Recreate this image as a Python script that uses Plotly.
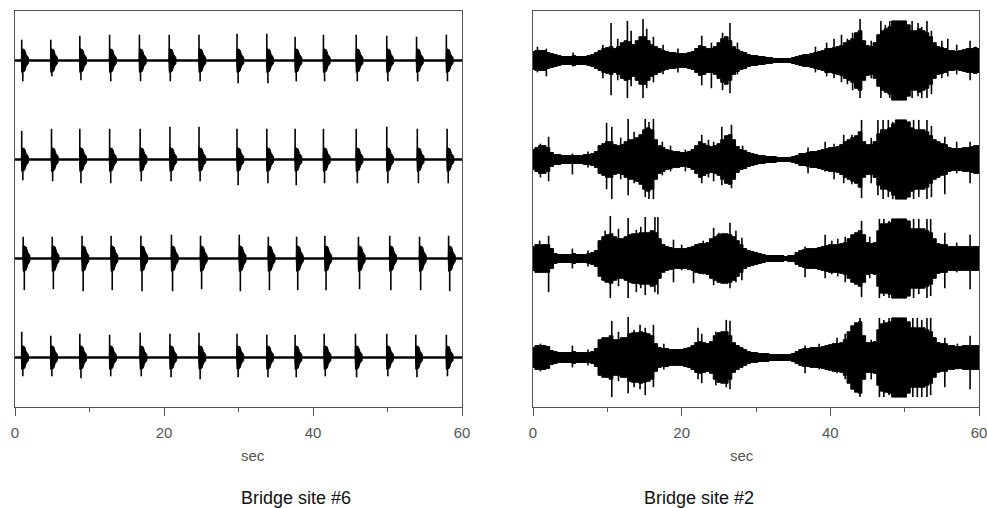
import plotly.graph_objects as go

# ---------------- DATA ----------------
# Bridge site #6 : periodic vehicle pulses (onset times in sec, peak up / down amplitude)
L1_T = [0.9, 4.8, 8.7, 12.7, 16.7, 20.7, 24.7, 29.8, 33.8, 37.6, 41.4, 45.8, 49.9, 53.9, 57.9]
L1_UP = [21, 21, 25, 26, 26, 26, 26, 27, 27, 24, 26, 26, 25, 24, 26]
L1_DN = [21, 16, 20, 21, 21, 21, 21, 23, 23, 21, 21, 21, 21, 21, 21]

L2_T = [0.9, 4.9, 8.7, 12.7, 16.8, 20.8, 24.7, 29.8, 33.8, 37.6, 41.4, 45.8, 49.9, 54.0, 58.0]
L2_UP = [29, 31, 31, 31, 31, 33, 33, 31, 31, 31, 31, 31, 33, 31, 31]
L2_DN = [21, 22, 24, 24, 22, 22, 22, 26, 24, 26, 24, 24, 24, 24, 24]

L3_T = [1.1, 5.0, 9.0, 12.9, 16.9, 21.0, 24.9, 30.1, 34.0, 37.8, 41.6, 46.1, 50.3, 54.3, 58.2]
L3_UP = [22, 22, 23, 23, 23, 24, 23, 24, 22, 22, 23, 22, 23, 22, 23]
L3_DN = [32, 31, 33, 32, 33, 33, 31, 33, 32, 32, 32, 31, 32, 32, 33]

L4_T = [0.9, 4.8, 8.7, 12.7, 16.8, 20.8, 24.7, 29.8, 33.8, 37.6, 41.5, 45.7, 49.9, 53.8, 57.9]
L4_UP = [26, 22, 24, 23, 25, 24, 25, 24, 23, 23, 24, 24, 24, 23, 23]
L4_DN = [19, 19, 21, 19, 19, 20, 22, 20, 20, 20, 19, 20, 19, 20, 19]

LEFT_BODY = [12, 12, 13, 12]

# Bridge site #2 : envelope amplitude every 0.5 s (0 ... 60 s)
R1_ENV = [9, 10, 10, 10, 8, 7, 6, 5, 4, 4, 4, 5, 4, 4, 4, 5, 6, 8, 10, 12,
          13, 14, 12, 14, 18, 20, 19, 16, 20, 24, 24, 20, 16, 14, 12, 10, 9, 8, 8, 7,
          7, 7, 8, 9, 12, 15, 14, 12, 12, 14, 18, 22, 24, 20, 14, 11, 9, 8, 6, 5,
          5, 4, 4, 3, 3, 2, 2, 2, 2, 2, 3, 4, 5, 6, 6, 7, 8, 9, 10, 12,
          12, 13, 14, 15, 18, 20, 22, 28, 30, 20, 15, 14, 18, 26, 30, 32, 34, 40, 40, 40,
          40, 36, 30, 30, 32, 30, 28, 24, 18, 14, 13, 12, 10, 10, 9, 10, 11, 12, 12, 13,
          12]
R2_ENV = [10, 12, 14, 14, 12, 7, 5, 5, 4, 4, 4, 4, 4, 4, 5, 5, 6, 8, 14, 16,
          18, 18, 15, 14, 15, 18, 20, 20, 22, 25, 30, 32, 30, 20, 14, 12, 10, 9, 8, 8,
          7, 7, 8, 10, 14, 18, 16, 14, 13, 14, 16, 20, 24, 25, 20, 13, 10, 9, 7, 6,
          5, 4, 4, 3, 3, 3, 2, 2, 2, 2, 3, 4, 6, 6, 7, 8, 8, 9, 10, 11,
          12, 12, 13, 15, 18, 20, 22, 24, 28, 18, 15, 15, 18, 26, 30, 30, 32, 36, 40, 40,
          40, 38, 32, 30, 30, 30, 28, 24, 20, 18, 16, 15, 12, 11, 11, 11, 12, 12, 13, 14,
          14]
R3_ENV = [12, 14, 14, 14, 14, 10, 5, 4, 4, 4, 4, 5, 4, 4, 4, 5, 6, 8, 18, 22,
          24, 25, 22, 20, 20, 22, 24, 25, 25, 26, 26, 26, 28, 26, 20, 14, 12, 11, 10, 10,
          10, 10, 11, 12, 14, 15, 15, 16, 20, 22, 24, 25, 25, 24, 22, 18, 14, 10, 8, 7,
          6, 5, 4, 3, 3, 3, 3, 3, 2, 3, 3, 6, 8, 9, 10, 10, 10, 11, 12, 13,
          14, 14, 14, 15, 16, 20, 24, 26, 28, 24, 16, 15, 16, 28, 35, 35, 36, 40, 40, 40,
          40, 38, 30, 30, 30, 30, 28, 26, 20, 15, 14, 14, 12, 12, 12, 12, 12, 12, 12, 12,
          12]
R4_ENV = [10, 12, 12, 12, 11, 7, 6, 5, 5, 5, 5, 6, 5, 5, 5, 5, 6, 9, 18, 20,
          20, 22, 18, 18, 20, 20, 24, 25, 25, 26, 25, 24, 22, 14, 10, 9, 9, 8, 8, 8,
          8, 9, 10, 12, 15, 16, 15, 14, 16, 22, 25, 26, 26, 22, 15, 12, 10, 8, 6, 5,
          5, 4, 4, 4, 3, 3, 3, 3, 3, 3, 4, 6, 8, 9, 9, 10, 10, 10, 11, 12,
          13, 14, 14, 15, 18, 26, 32, 35, 36, 22, 15, 15, 16, 28, 34, 35, 36, 40, 40, 40,
          40, 36, 30, 30, 30, 30, 28, 26, 20, 15, 14, 14, 12, 12, 11, 11, 12, 12, 12, 12,
          12]

# Bridge site #2 : individual peaks (time, up, down)
R1_SPK = [(0.6, 14, 12), (1.8, 12, 16), (5.4, 8, 6), (9.4, 16, 18), (10.5, 38, 35), (11.4, 22, 20),
          (12.7, 40, 38), (13.2, 30, 26), (14.8, 42, 38), (15.3, 32, 28), (16.2, 24, 22), (17.5, 16, 14),
          (19.5, 12, 12), (22.7, 25, 25), (24.0, 18, 28), (25.5, 28, 30), (26.5, 38, 33), (27.5, 18, 14),
          (38.0, 14, 12), (39.5, 18, 16), (40.5, 22, 18), (41.5, 26, 22), (42.3, 22, 24), (43.0, 28, 30),
          (44.0, 42, 38), (45.5, 20, 18), (46.8, 40, 38), (47.4, 36, 32), (48.0, 40, 38), (51.0, 40, 38),
          (51.8, 38, 36), (52.3, 34, 38), (53.0, 40, 38), (53.6, 30, 34), (55.0, 20, 18), (55.8, 22, 16),
          (57.0, 16, 14), (58.8, 20, 20), (59.5, 14, 12)]
R2_SPK = [(1.0, 16, 18), (2.1, 23, 22), (5.3, 6, 15), (7.4, 8, 8), (9.9, 37, 30), (10.6, 33, 40),
          (11.8, 22, 20), (12.8, 41, 36), (13.6, 28, 24), (15.1, 41, 38), (15.6, 38, 40), (16.2, 41, 40),
          (17.4, 18, 16), (18.5, 14, 12), (20.5, 10, 12), (22.7, 25, 24), (23.6, 20, 18), (24.3, 18, 22),
          (25.4, 33, 26), (26.7, 35, 29), (28.2, 14, 10), (37.0, 12, 14), (39.3, 18, 12), (40.5, 16, 20),
          (41.8, 25, 24), (42.9, 25, 25), (44.2, 40, 39), (45.5, 22, 24), (46.4, 40, 36), (47.1, 40, 40),
          (47.8, 40, 38), (48.4, 38, 40), (51.2, 40, 40), (51.9, 40, 38), (53.0, 40, 40), (53.6, 34, 38),
          (55.4, 23, 35), (57.0, 18, 14), (58.8, 18, 24)]
R3_SPK = [(0.9, 18, 14), (2.1, 23, 34), (5.3, 10, 10), (7.4, 8, 8), (9.7, 28, 24), (10.4, 43, 40),
          (11.5, 30, 28), (12.8, 41, 40), (13.9, 29, 34), (14.5, 32, 30), (15.1, 42, 37), (16.4, 42, 34),
          (16.8, 42, 36), (18.9, 19, 24), (20.0, 14, 12), (21.6, 12, 25), (22.9, 18, 16), (24.3, 31, 27),
          (25.0, 26, 22), (26.5, 36, 30), (27.3, 28, 24), (28.1, 21, 22), (36.6, 12, 19), (39.3, 24, 20),
          (40.2, 18, 16), (41.0, 20, 18), (42.0, 22, 24), (44.2, 38, 39), (45.3, 22, 20), (46.6, 40, 40),
          (47.2, 40, 38), (47.9, 38, 40), (51.2, 40, 40), (51.9, 40, 36), (53.0, 40, 40), (53.5, 40, 38),
          (55.4, 26, 30), (57.0, 16, 14), (58.8, 24, 31)]
R4_SPK = [(1.0, 14, 14), (5.3, 12, 10), (7.4, 8, 8), (10.6, 37, 40), (11.5, 26, 24), (12.8, 41, 36),
          (13.6, 28, 30), (14.4, 33, 32), (15.1, 30, 38), (16.2, 33, 30), (17.6, 14, 12), (22.2, 30, 22),
          (22.7, 24, 26), (24.6, 26, 28), (26.0, 38, 30), (26.5, 37, 32), (36.6, 12, 16), (38.5, 14, 12),
          (40.9, 20, 16), (42.0, 24, 22), (44.0, 40, 40), (45.5, 18, 22), (46.6, 40, 40), (47.2, 38, 40),
          (47.9, 40, 38), (51.1, 40, 40), (51.7, 40, 40), (52.3, 38, 40), (53.0, 40, 40), (53.5, 40, 38),
          (55.4, 20, 30), (57.1, 14, 12), (58.8, 22, 32)]

ENV_STEP = 0.5
X_TICKS = [0, 20, 40, 60]
X_TICK_LABELS = ["0", "20", "40", "60"]
PANEL_TITLES = ["Bridge site #6", "Bridge site #2"]
X_TITLE = "sec"
OFFSETS = [0, -100, -200, -300]

# ---------------- FIGURE ----------------
fig = go.Figure()
INK = "black"

# left panel
left = [(L1_T, L1_UP, L1_DN), (L2_T, L2_UP, L2_DN), (L3_T, L3_UP, L3_DN), (L4_T, L4_UP, L4_DN)]
for k, (ts, ups, dns) in enumerate(left):
    off = OFFSETS[k]
    b = LEFT_BODY[k]
    fig.add_trace(go.Scatter(x=[0, 60], y=[off, off], mode="lines",
                             line=dict(color=INK, width=2.6), xaxis="x", yaxis="y",
                             hoverinfo="skip", showlegend=False))
    bx, by = [], []
    for t in ts:
        bx += [t - 0.05, t, t + 0.4, t + 0.6, t + 0.9, t + 0.9, t + 0.6, t + 0.4, t, t - 0.05, None]
        by += [off, off + b, off + b * 0.9, off + b * 0.5, off + 3,
               off - 3, off - b * 0.5, off - b * 0.9, off - b, off, None]
    fig.add_trace(go.Scatter(x=bx, y=by, mode="lines", fill="toself", fillcolor=INK,
                             line=dict(color=INK, width=1), xaxis="x", yaxis="y",
                             hoverinfo="skip", showlegend=False))
    sx, sy = [], []
    for t, u, d in zip(ts, ups, dns):
        sx += [t, t, None, t + 0.15, t + 0.15, None]
        sy += [off, off + u, None, off, off - d, None]
    fig.add_trace(go.Scatter(x=sx, y=sy, mode="lines", line=dict(color=INK, width=1.6),
                             xaxis="x", yaxis="y", hoverinfo="skip", showlegend=False))

# right panel (stepped envelope + individual peaks)
right = [(R1_ENV, R1_SPK), (R2_ENV, R2_SPK), (R3_ENV, R3_SPK), (R4_ENV, R4_SPK)]
for k, (env, spk) in enumerate(right):
    off = OFFSETS[k]
    ux, uy = [], []
    for i, e in enumerate(env):
        t0 = max(0.0, i * ENV_STEP - ENV_STEP / 2)
        t1 = min(60.0, i * ENV_STEP + ENV_STEP / 2)
        ux += [t0, t1]
        uy += [e, e]
    xs = ux + ux[::-1]
    ys = [off + v for v in uy] + [off - v for v in uy[::-1]]
    fig.add_trace(go.Scatter(x=xs, y=ys, mode="lines", fill="toself", fillcolor=INK,
                             line=dict(color=INK, width=1), xaxis="x2", yaxis="y2",
                             hoverinfo="skip", showlegend=False))
    sx, sy = [], []
    for t, u, d in spk:
        sx += [t, t, None]
        sy += [off + u, off - d, None]
    fig.add_trace(go.Scatter(x=sx, y=sy, mode="lines", line=dict(color=INK, width=1.6),
                             xaxis="x2", yaxis="y2", hoverinfo="skip", showlegend=False))

# page laid out edge-to-edge (body margin removed below)
W, H = 987, 508
def px_x(v):
    return v / W
def px_y(v):
    return 1 - v / H

dom_y = [px_y(407), px_y(11)]
dom_l = [px_x(15), px_x(462)]
dom_r = [px_x(533), px_x(979)]

FONT = "Liberation Sans, Arial, sans-serif"
xcommon = dict(range=[0, 60], tickvals=X_TICKS, ticktext=X_TICK_LABELS, ticks="outside",
               ticklen=8, tickwidth=1, tickcolor="#555", showline=True, linecolor="#555",
               linewidth=1, mirror=True, showgrid=False, zeroline=False,
               tickfont=dict(family=FONT, size=15, color="#555"),
               ticklabelstandoff=4, ticklabeloverflow="allow",
               minor=dict(tickvals=[10, 30, 50], ticks="outside", ticklen=4, tickcolor="#555"),
               automargin=False, fixedrange=True)
ycommon = dict(range=[-350, 50], showticklabels=False, ticks="", showline=True,
               linecolor="#555", linewidth=1, mirror=True, showgrid=False, zeroline=False,
               automargin=False, fixedrange=True)

fig.update_layout(
    width=W, height=H, margin=dict(l=0, r=0, t=0, b=0),
    paper_bgcolor="white", plot_bgcolor="white", showlegend=False,
    xaxis=dict(domain=dom_l, anchor="y", **xcommon),
    yaxis=dict(domain=dom_y, anchor="x", **ycommon),
    xaxis2=dict(domain=dom_r, anchor="y2", **xcommon),
    yaxis2=dict(domain=dom_y, anchor="x2", **ycommon),
)

for dom, title in zip([dom_l, dom_r], PANEL_TITLES):
    cx = (dom[0] + dom[1]) / 2
    fig.add_annotation(x=cx, y=px_y(455), xref="paper", yref="paper", text=X_TITLE,
                       showarrow=False, yanchor="middle",
                       font=dict(family=FONT, size=15, color="#555"))
    fig.add_annotation(x=cx, y=px_y(498), xref="paper", yref="paper", text=title,
                       showarrow=False, yanchor="middle",
                       font=dict(family=FONT, size=18, color="#111"))

fig.write_html(
    "out.html",
    config={"displayModeBar": False, "staticPlot": True},
    post_script="document.body.style.margin='0';document.body.style.overflow='hidden';",
)
